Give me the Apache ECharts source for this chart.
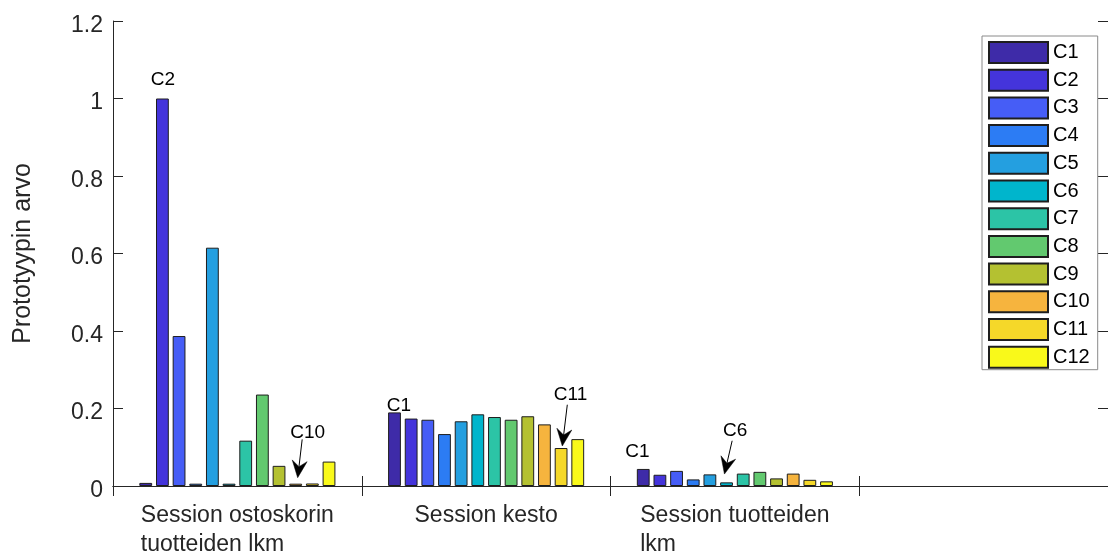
<!DOCTYPE html>
<html>
<head>
<meta charset="utf-8">
<script src="https://cdn.jsdelivr.net/npm/echarts@6/dist/echarts.min.js"></script>
<style>
html,body{margin:0;padding:0;background:#fff;}
#chart{width:1108px;height:556px;}
</style>
</head>
<body>
<div id="chart"></div>
<script>
// ---- data ----
const categories = ['Session ostoskorin\ntuotteiden lkm', 'Session kesto', 'Session tuotteiden\nlkm', ''];
const seriesNames = ['C1','C2','C3','C4','C5','C6','C7','C8','C9','C10','C11','C12'];
const ostoskoriValues = [0.008, 1.0, 0.387, 0.006, 0.615, 0.006, 0.117, 0.236, 0.052, 0.006, 0.0065, 0.063];
const kestoValues = [0.190, 0.174, 0.171, 0.134, 0.167, 0.185, 0.178, 0.171, 0.180, 0.159, 0.098, 0.121];
const tuotteetValues = [0.044, 0.029, 0.039, 0.017, 0.030, 0.0094, 0.032, 0.0365, 0.0196, 0.032, 0.016, 0.012];
const yTickLabels = ['0', '0.2', '0.4', '0.6', '0.8', '1', '1.2'];
const yAxisTitle = 'Prototyypin arvo';

// ---- styles ----
const colors = ['#3e2ba8','#4434db','#465df6','#2c7cf4','#249fe0','#00b5cc','#2cc4a6','#62c96f','#b4c131','#f6b43e','#f5d829','#f9f91a'];
const FONT = "'Liberation Sans', Arial, Helvetica, sans-serif";
const AX = '#262626';
const BAR_W = 12.8;
const BAR_GAP = 0.3016;

// annotations: label, series index, category index, text offset, arrow (start, tip) offsets in px from bar top centre
const annotations = [
  {label:'C2',  s:1,  c:0, t:[0.5,-19.2]},
  {label:'C10', s:9,  c:0, t:[12,-50.8], a:[[6.5,-44.3],[2,-6]]},
  {label:'C1',  s:0,  c:1, t:[4.5,-6.5]},
  {label:'C11', s:10, c:1, t:[9.5,-53.3], a:[[6.2,-43.3],[1.2,-2]]},
  {label:'C1',  s:0,  c:2, t:[-5.8,-17.2]},
  {label:'C6',  s:5,  c:2, t:[8.6,-51.6], a:[[5.6,-41.6],[-2.1,-8.3]]}
];

const groups = [ostoskoriValues, kestoValues, tuotteetValues];
const series = seriesNames.map((name, i) => ({
  name: name,
  type: 'bar',
  barWidth: BAR_W,
  barGap: (BAR_GAP*100) + '%',
  data: [groups[0][i], groups[1][i], groups[2][i], '-'],
  itemStyle: {color: colors[i], borderColor: '#1e1e1e', borderWidth: 1},
  emphasis: {disabled: true},
  animation: false
}));

const chart = echarts.init(document.getElementById('chart'), null, {renderer: 'canvas'});
const axisCommon = {
  axisLine: {show: true, lineStyle: {color: AX, width: 1}},
  axisTick: {show: true, inside: true, length: 10, lineStyle: {color: AX}},
  splitLine: {show: false}
};
chart.setOption({
  animation: false,
  grid: {left: 113, top: 21, width: 999.6, height: 471, containLabel: false},
  xAxis: [
    Object.assign({}, axisCommon, {
      type: 'category', data: categories, position: 'bottom',
      axisLabel: {
        show: true, margin: 15, interval: 0,
        formatter: v => v ? '{a|' + v + '}' : '',
        rich: {a: {fontFamily: FONT, fontSize: 23, lineHeight: 29, color: AX, align: 'left'}}
      }
    }),
    Object.assign({}, axisCommon, {
      type: 'category', data: categories, position: 'top',
      axisLabel: {show: false}
    })
  ],
  yAxis: [
    Object.assign({}, axisCommon, {
      type: 'value', min: 0, max: 1.2, interval: 0.2, position: 'left',
      name: yAxisTitle, nameLocation: 'middle', nameGap: 77,
      nameTextStyle: {fontFamily: FONT, fontSize: 25, color: AX},
      axisLabel: {show: true, margin: 10, fontFamily: FONT, fontSize: 23, color: AX,
        verticalAlign: 'top', lineHeight: 9,
        formatter: v => yTickLabels[Math.round(v / 0.2)]}
    }),
    Object.assign({}, axisCommon, {
      type: 'value', min: 0, max: 1.2, interval: 0.2, position: 'right',
      axisLabel: {show: false}
    })
  ],
  legend: {
    data: seriesNames, orient: 'vertical', left: 982, top: 36,
    icon: 'rect', itemWidth: 59, itemHeight: 21, itemGap: 4.7,
    padding: [5, 8, 1, 6],
    borderColor: '#8a8a8a', borderWidth: 1, backgroundColor: '#fff',
    textStyle: {fontFamily: FONT, fontSize: 20, color: '#000'},
    selectedMode: false
  },
  series: series
});

// ---- annotations positioned on bars through the axes ----
function barTop(s, c) {
  const total = 12 * BAR_W + 11 * BAR_W * BAR_GAP;
  const off = -total / 2 + s * BAR_W * (1 + BAR_GAP) + BAR_W / 2;
  const x = chart.convertToPixel({xAxisIndex: 0}, c) + off;
  const y = chart.convertToPixel({yAxisIndex: 0}, groups[c][s]);
  return [x, y];
}
const graphics = [];
annotations.forEach(a => {
  const p = barTop(a.s, a.c);
  graphics.push({
    type: 'text', x: p[0] + a.t[0], y: p[1] + a.t[1], z: 10,
    style: {text: a.label, fontFamily: FONT, fontSize: 19, fill: '#000', align: 'center', verticalAlign: 'middle'}
  });
  if (a.a) {
    const s = [p[0] + a.a[0][0], p[1] + a.a[0][1]];
    const t = [p[0] + a.a[1][0], p[1] + a.a[1][1]];
    const dx = t[0] - s[0], dy = t[1] - s[1];
    const len = Math.sqrt(dx*dx + dy*dy);
    const ux = dx / len, uy = dy / len, nx = -uy, ny = ux;
    const L = 17, W = 15;
    const bx = t[0] - ux * L, by = t[1] - uy * L;
    const notch = [t[0] - ux * L * 0.65, t[1] - uy * L * 0.65];
    graphics.push({
      type: 'line', z: 10,
      shape: {x1: s[0], y1: s[1], x2: notch[0], y2: notch[1]},
      style: {stroke: '#000', lineWidth: 1}
    });
    graphics.push({
      type: 'polygon', z: 10,
      shape: {points: [t, [bx + nx * W / 2, by + ny * W / 2], notch, [bx - nx * W / 2, by - ny * W / 2]]},
      style: {fill: '#000', stroke: '#000', lineWidth: 0.5}
    });
  }
});
chart.setOption({graphic: graphics});
</script>
</body>
</html>
